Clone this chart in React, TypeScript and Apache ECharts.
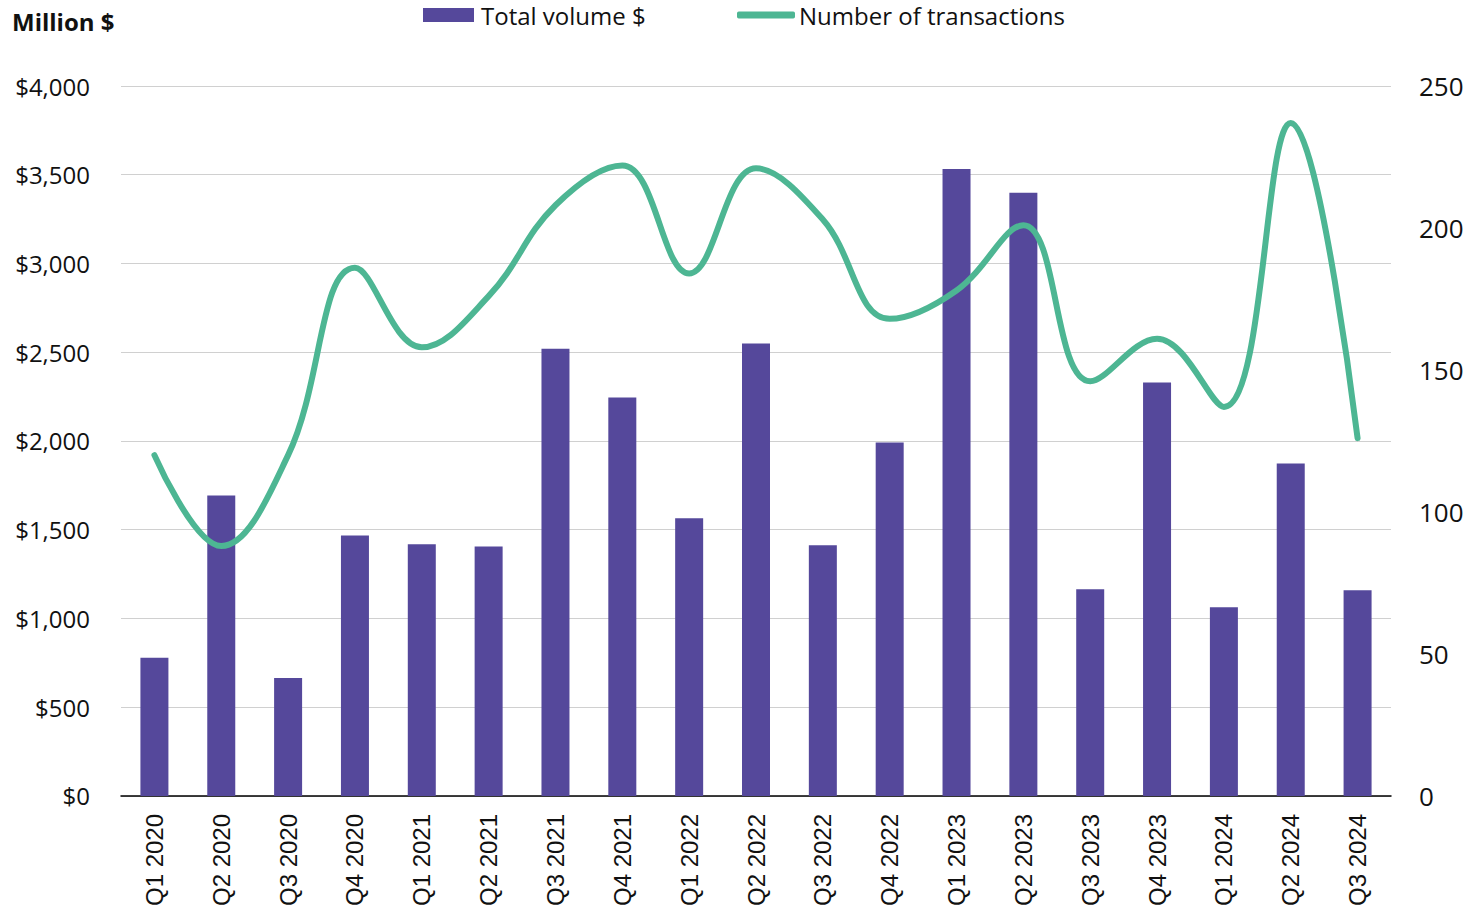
import React, { useEffect, useRef } from "react";
import * as echarts from "echarts";

const categories = [
  "Q1 2020", "Q2 2020", "Q3 2020", "Q4 2020",
  "Q1 2021", "Q2 2021", "Q3 2021", "Q4 2021",
  "Q1 2022", "Q2 2022", "Q3 2022", "Q4 2022",
  "Q1 2023", "Q2 2023", "Q3 2023", "Q4 2023",
  "Q1 2024", "Q2 2024", "Q3 2024",
];

const totalVolume = [
  778, 1693, 664, 1468,
  1418, 1406, 2520, 2245,
  1564, 2549, 1412, 1992,
  3533, 3398, 1165, 2329,
  1063, 1873, 1159,
];

const transactions = [
  120, 88, 120, 186,
  158, 176, 208, 222,
  184, 221, 203, 168,
  178, 201, 146, 161,
  137, 237, 126,
];

const leftTicks = { min: 0, max: 4000, interval: 500 };
const rightTicks = { min: 0, max: 250, interval: 50 };

const BAR_COLOR = "#55489b";
const LINE_COLOR = "#4db693";
const TEXT_COLOR = "#111111";
const UI_FONT = "'Open Sans', 'Noto Sans', sans-serif";

export default function App() {
  const ref = useRef<HTMLDivElement>(null);

  useEffect(() => {
    if (!ref.current) return;
    const chart = echarts.init(ref.current, undefined, { renderer: "svg" });
    chart.setOption({
      animation: false,
      backgroundColor: "#ffffff",
      title: {
        text: "Million $",
        left: 7,
        top: 4,
        textStyle: {
          fontFamily: UI_FONT,
          fontWeight: "bold",
          fontSize: 24,
          color: TEXT_COLOR,
        },
      },
      legend: [
        {
          data: [{ name: "Total volume $", icon: "rect" }],
          left: 418,
          top: 0,
          padding: [3, 5, 5, 5],
          itemWidth: 51,
          itemHeight: 14,
          itemGap: 0,
          textStyle: { fontFamily: UI_FONT, fontSize: 24, color: TEXT_COLOR, padding: [0, 0, 0, 2] },
        },
        {
          data: [{ name: "Number of transactions", icon: "roundRect" }],
          left: 732,
          top: 0,
          padding: [3, 5, 5, 5],
          itemWidth: 58,
          itemHeight: 7,
          itemGap: 0,
          textStyle: { fontFamily: UI_FONT, fontSize: 24, color: TEXT_COLOR, padding: [0, 0, 0, -1] },
        },
      ],
      grid: {
        left: 121,
        right: 77,
        top: 86,
        bottom: 112,
        containLabel: false,
      },
      xAxis: {
        type: "category",
        data: categories,
        axisLine: { show: true, lineStyle: { color: "#000000", width: 1.5 } },
        axisTick: { show: false },
        axisLabel: {
          rotate: 90,
          interval: 0,
          margin: 18,
          fontFamily: "'Liberation Sans', Arial, sans-serif",
          fontSize: 24,
          color: TEXT_COLOR,
        },
      },
      yAxis: [
        {
          type: "value",
          min: leftTicks.min,
          max: leftTicks.max,
          interval: leftTicks.interval,
          position: "left",
          axisLine: { show: false },
          axisTick: { show: false },
          splitLine: { show: true, lineStyle: { color: "#d0d0d0", width: 1 } },
          axisLabel: {
            margin: 31,
            fontFamily: UI_FONT,
            fontSize: 24,
            color: TEXT_COLOR,
            formatter: (v: number) => "$" + v.toLocaleString("en-US"),
          },
        },
        {
          type: "value",
          min: rightTicks.min,
          max: rightTicks.max,
          interval: rightTicks.interval,
          position: "right",
          axisLine: { show: false },
          axisTick: { show: false },
          splitLine: { show: false },
          axisLabel: {
            margin: 28,
            fontFamily: UI_FONT,
            fontSize: 26,
            color: TEXT_COLOR,
          },
        },
      ],
      series: [
        {
          name: "Total volume $",
          type: "bar",
          data: totalVolume,
          yAxisIndex: 0,
          barWidth: 28,
          itemStyle: { color: BAR_COLOR },
        },
        {
          name: "Number of transactions",
          type: "line",
          data: transactions,
          yAxisIndex: 1,
          smooth: 0.4,
          symbol: "none",
          lineStyle: { color: LINE_COLOR, width: 6, cap: "round" },
          itemStyle: { color: LINE_COLOR },
        },
      ],
    });
    return () => chart.dispose();
  }, []);

  return <div ref={ref} style={{ width: 1468, height: 909, position: "absolute", left: 0, top: 0 }} />;
}
